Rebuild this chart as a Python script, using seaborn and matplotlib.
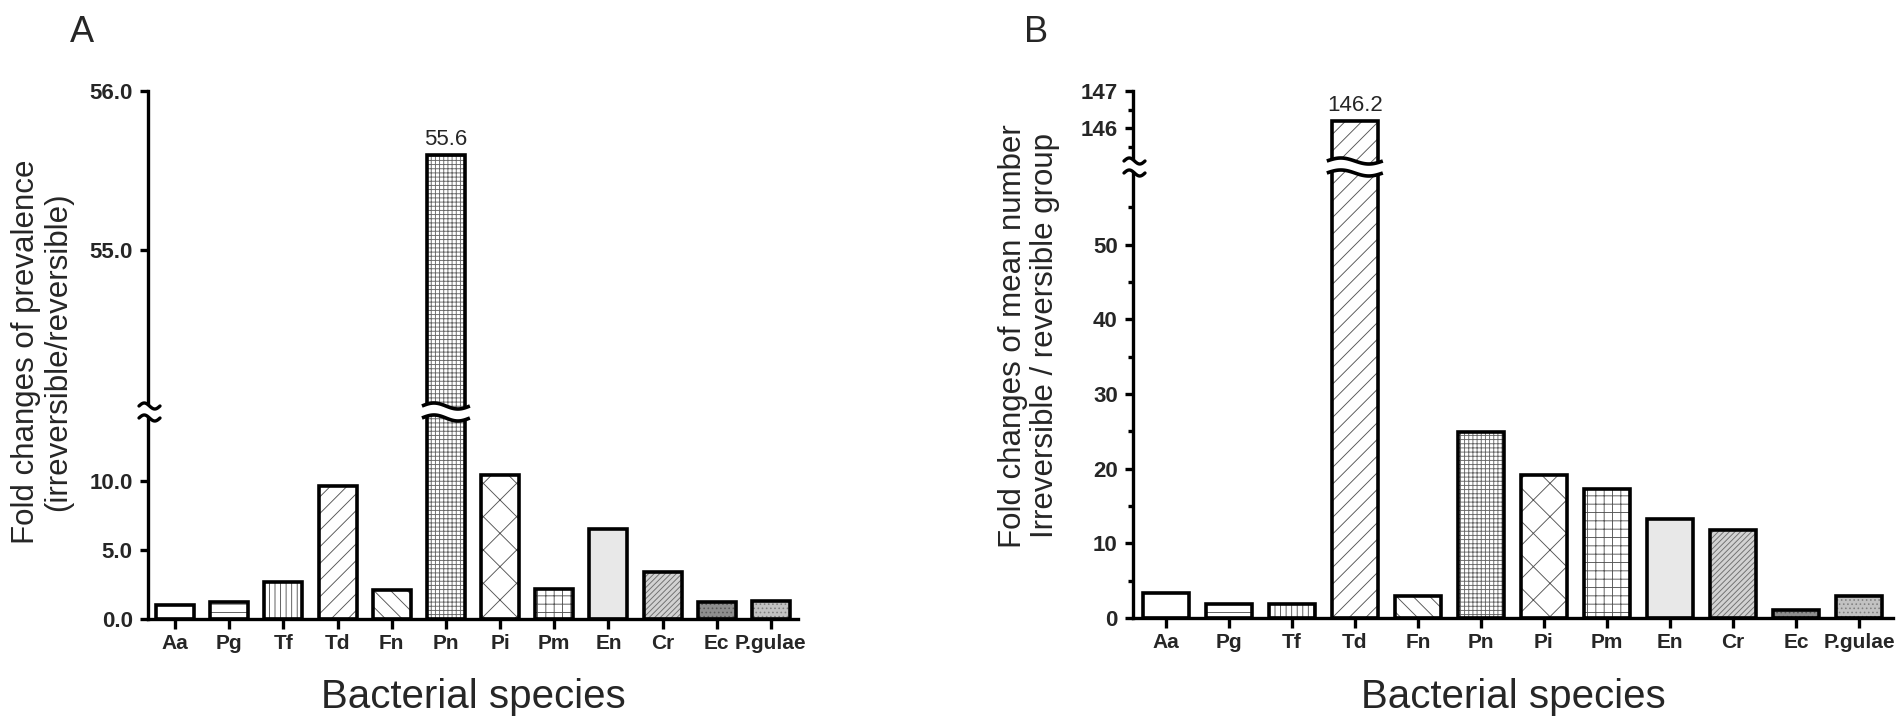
import numpy as np
import matplotlib
matplotlib.use("Agg")
import matplotlib.pyplot as plt
import matplotlib.transforms as mtransforms
from matplotlib.patches import Polygon
from matplotlib.lines import Line2D
from matplotlib.ticker import FixedLocator, FormatStrFormatter
import seaborn as sns

# ---------------- data ----------------
species = ["Aa", "Pg", "Tf", "Td", "Fn", "Pn", "Pi", "Pm", "En", "Cr", "Ec", "P.gulae"]
prevalence_fold = [1.0, 1.2, 2.7, 9.6, 2.1, 55.6, 10.4, 2.15, 6.5, 3.4, 1.2, 1.3]
mean_number_fold = [3.4, 1.9, 1.9, 146.2, 3.0, 24.9, 19.1, 17.3, 13.2, 11.8, 1.1, 3.0]

a_upper_ticks = [55.0, 56.0]
a_lower_ticks = [0.0, 5.0, 10.0]
b_upper_ticks = [146, 147]
b_upper_minor = [145.5, 146.5]
b_lower_ticks = [0, 10, 20, 30, 40, 50]
b_lower_minor = [5, 15, 25, 35, 45, 55]

xlabel = "Bacterial species"
ylabel_a = "Fold changes of prevalence\n(irreversible/reversible)"
ylabel_b = "Fold changes of mean number\nIrreversible / reversible group"

# ---------------- styles ----------------
hatches = ["", "--", "|||", "//", "\\\\", "++++", "x", "++", "", "//////", "....", "...."]
facecolors = ["white", "white", "white", "white", "white", "white", "white", "white",
              "#e8e8e8", "#d2d2d2", "#8e8e8e", "#c2c2c2"]
hatchcolors = ["#555555"] * 5 + ["#666666"] + ["#555555"] * 2 + ["#bbbbbb", "#6e6e6e", "#5a5a5a", "#808080"]

sns.set_theme(style="white")
plt.rcParams["font.family"] = ["Liberation Sans", "DejaVu Sans"]
plt.rcParams["hatch.linewidth"] = 0.65
TICKFONT = ["Liberation Sans Narrow", "Liberation Sans", "DejaVu Sans"]

W, H = 1902, 723
fig = plt.figure(figsize=(W / 100, H / 100), dpi=100)
fig.patch.set_facecolor("white")


def fx(px):
    return px / W


def fy(py):
    return 1 - py / H


def make_axes(left, right, top, brk_top, brk_bot, bottom):
    ax_up = fig.add_axes([fx(left), fy(brk_top), fx(right - left), fy(top) - fy(brk_top)])
    ax_lo = fig.add_axes([fx(left), fy(bottom), fx(right - left), fy(brk_bot) - fy(bottom)])
    return ax_up, ax_lo


def draw_bars(ax, values, width):
    sns.barplot(x=species, y=values, order=species, ax=ax, width=width, color="white",
                linewidth=0, saturation=1, errorbar=None)
    for p, h, fc, hc in zip(ax.patches, hatches, facecolors, hatchcolors):
        p.set_facecolor(fc)
        p.set_hatch(h)
        p.set_edgecolor(hc)
        p.set_linewidth(0)
    n = len(ax.patches)
    sns.barplot(x=species, y=values, order=species, ax=ax, width=width, fill=False,
                color="black", linewidth=2.6, saturation=1, errorbar=None)
    for p in ax.patches[n:]:
        p.set_edgecolor("black")
        p.set_facecolor("none")
        p.set_joinstyle("miter")
        p.set_zorder(3)


def style_axes(ax, upper, xlim):
    ax.set_xlim(*xlim)
    ax.set_xlabel("")
    ax.set_ylabel("")
    for s in ["top", "right"]:
        ax.spines[s].set_visible(False)
    ax.spines["left"].set_linewidth(2.4)
    ax.spines["left"].set_color("black")
    ax.spines["bottom"].set_linewidth(2.4)
    ax.spines["bottom"].set_color("black")
    ax.tick_params(axis="y", which="major", direction="out", length=6, width=2.4,
                   color="black", pad=5, left=True, labelsize=16)
    ax.tick_params(axis="y", which="minor", direction="out", length=3.5, width=2.4,
                   color="black", left=True)
    if upper:
        ax.spines["bottom"].set_visible(False)
        ax.tick_params(axis="x", bottom=False, labelbottom=False)
    else:
        ax.tick_params(axis="x", direction="out", length=7, width=2.4, color="black",
                       pad=4, bottom=True, labelsize=15)
        for lab in ax.get_xticklabels():
            lab.set_fontfamily(TICKFONT)
            lab.set_fontweight("bold")
    for lab in ax.get_yticklabels():
        lab.set_fontfamily(TICKFONT)
        lab.set_fontweight("bold")
    ax.set_facecolor("white")
    ax.grid(False)


def break_marks(ax_up, ax_lo, bar_index, width, amp_px=3.0, ext_px=5):
    ytop = ax_up.get_position().y0
    ybot = ax_lo.get_position().y1
    amp = amp_px / H
    t = np.linspace(0, 1, 80)
    wave = np.sin(2 * np.pi * t) * amp
    trans = mtransforms.blended_transform_factory(ax_lo.transData, fig.transFigure)
    ax_w_px = ax_lo.get_position().width * W
    xr = ax_lo.get_xlim()
    px_per_unit = ax_w_px / (xr[1] - xr[0])
    p = ax_lo.patches[bar_index]
    x0 = p.get_x() - ext_px / px_per_unit
    x1 = p.get_x() + p.get_width() + ext_px / px_per_unit
    xs = x0 + (x1 - x0) * t
    top_line = ytop + amp + wave
    bot_line = ybot - amp + wave
    poly = np.concatenate([np.column_stack([xs, top_line]), np.column_stack([xs[::-1], bot_line[::-1]])])
    fig.add_artist(Polygon(poly, closed=True, transform=trans, facecolor="white", edgecolor="none", zorder=5))
    fig.add_artist(Line2D(xs, top_line, transform=trans, color="black", lw=2.6, zorder=6, solid_capstyle="butt"))
    fig.add_artist(Line2D(xs, bot_line, transform=trans, color="black", lw=2.6, zorder=6, solid_capstyle="butt"))
    trans2 = mtransforms.blended_transform_factory(ax_lo.transAxes, fig.transFigure)
    xa = (-9 + 21 * t) / ax_w_px
    poly2 = np.concatenate([np.column_stack([xa, top_line]), np.column_stack([xa[::-1], bot_line[::-1]])])
    fig.add_artist(Polygon(poly2, closed=True, transform=trans2, facecolor="white", edgecolor="none", zorder=5))
    fig.add_artist(Line2D(xa, top_line, transform=trans2, color="black", lw=2.4, zorder=6))
    fig.add_artist(Line2D(xa, bot_line, transform=trans2, color="black", lw=2.4, zorder=6))


# ---------------- panel A ----------------
a_up, a_lo = make_axes(148, 798, 91, 409, 415, 619)
draw_bars(a_up, prevalence_fold, 0.70)
draw_bars(a_lo, prevalence_fold, 0.70)
a_up.set_ylim(54.0, 56.0)
a_lo.set_ylim(0, 14.75)
a_up.yaxis.set_major_locator(FixedLocator(a_upper_ticks))
a_lo.yaxis.set_major_locator(FixedLocator(a_lower_ticks))
a_up.yaxis.set_major_formatter(FormatStrFormatter("%.1f"))
a_lo.yaxis.set_major_formatter(FormatStrFormatter("%.1f"))
style_axes(a_up, True, (-0.5, 11.5))
style_axes(a_lo, False, (-0.5, 11.5))
ia = int(np.argmax(prevalence_fold))
a_up.bar_label(a_up.containers[1], labels=[f"{v:.1f}" if i == ia else "" for i, v in enumerate(prevalence_fold)],
               padding=3, fontsize=16, fontfamily=TICKFONT)
break_marks(a_up, a_lo, ia, 0.70)

# ---------------- panel B ----------------
b_up, b_lo = make_axes(1133, 1893, 91, 164, 170, 618)
draw_bars(b_up, mean_number_fold, 0.73)
draw_bars(b_lo, mean_number_fold, 0.73)
b_up.set_ylim(145.03, 147.0)
b_lo.set_ylim(0, 60.0)
b_up.yaxis.set_major_locator(FixedLocator(b_upper_ticks))
b_up.yaxis.set_minor_locator(FixedLocator(b_upper_minor))
b_lo.yaxis.set_major_locator(FixedLocator(b_lower_ticks))
b_lo.yaxis.set_minor_locator(FixedLocator(b_lower_minor))
b_up.yaxis.set_major_formatter(FormatStrFormatter("%d"))
b_lo.yaxis.set_major_formatter(FormatStrFormatter("%d"))
style_axes(b_up, True, (-0.52, 11.54))
style_axes(b_lo, False, (-0.52, 11.54))
ib = int(np.argmax(mean_number_fold))
b_up.bar_label(b_up.containers[1], labels=[f"{v:.1f}" if i == ib else "" for i, v in enumerate(mean_number_fold)],
               padding=3, fontsize=16, fontfamily=TICKFONT)
break_marks(b_up, b_lo, ib, 0.73)

# ---------------- labels ----------------
for ax_lo, ylab, ycx, ycy, letter, lx in [
    (a_lo, ylabel_a, 42, 352, "A", 70),
    (b_lo, ylabel_b, 1029, 336, "B", 1024),
]:
    pos = ax_lo.get_position()
    fig.text(pos.x0 + pos.width / 2, fy(708), xlabel, ha="center", va="baseline", fontsize=29)
    fig.text(fx(ycx), fy(ycy), ylab, rotation=90, ha="center", va="center", fontsize=22.5,
             multialignment="center", linespacing=1.1)
    fig.text(fx(lx), fy(42), letter, ha="left", va="baseline", fontsize=26)

fig.savefig("out.png", dpi=100, facecolor="white")
